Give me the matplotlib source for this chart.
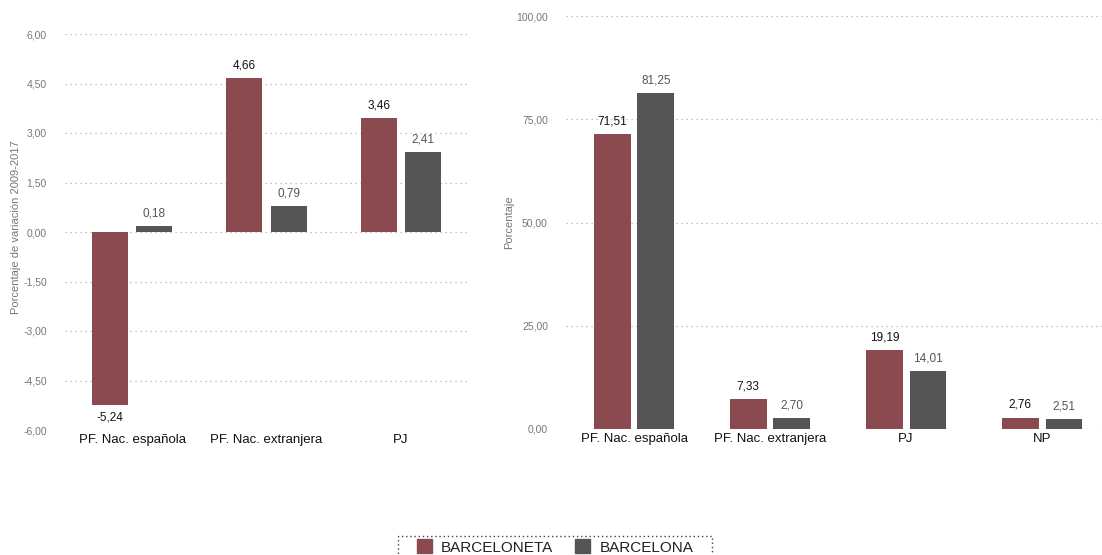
import matplotlib
matplotlib.use("Agg")
import matplotlib.pyplot as plt
import numpy as np
from matplotlib.patches import Rectangle

plt.rcParams['font.family'] = ['Liberation Sans', 'DejaVu Sans']

# Variation 2009-2017
var_categories = ["PF. Nac. española", "PF. Nac. extranjera", "PJ"]
var_barceloneta = [-5.24, 4.66, 3.46]
var_barcelona = [0.18, 0.79, 2.41]
var_ticks = [6.0, 4.5, 3.0, 1.5, 0.0, -1.5, -3.0, -4.5, -6.0]

# Share of total
pct_categories = ["PF. Nac. española", "PF. Nac. extranjera", "PJ", "NP"]
pct_barceloneta = [71.51, 7.33, 19.19, 2.76]
pct_barcelona = [81.25, 2.70, 14.01, 2.51]
pct_ticks = [0.0, 25.0, 50.0, 75.0, 100.0]

series_names = ["BARCELONETA", "BARCELONA"]
RED = "#8a4a4f"
DARK = "#555555"
W, H = 1102, 555


def fmt(v):
    return f"{v:.2f}".replace(".", ",")


def style_axis(ax, ticks):
    ax.set_yticks(ticks)
    ax.set_yticklabels([fmt(t) for t in ticks], fontsize=7.5, color="#777777")
    ax.yaxis.grid(True, linestyle=(0, (1, 3)), color="#b0b0b0", linewidth=0.9)
    ax.set_axisbelow(True)
    for s in ax.spines.values():
        s.set_visible(False)
    ax.tick_params(axis="y", length=0, pad=13)
    ax.tick_params(axis="x", length=0, pad=3, labelsize=9.5, labelcolor="#111111")


def draw_bars(ax, cats, a, b, off, bw, lab_off):
    x = np.arange(len(cats))
    ax.bar(x - off, a, bw, color=RED, zorder=2)
    ax.bar(x + off, b, bw, color=DARK, zorder=2)
    for xi, v in zip(x, a):
        va = "bottom" if v >= 0 else "top"
        ax.text(xi - off, v + (lab_off if v >= 0 else -lab_off), fmt(v),
                ha="center", va=va, fontsize=8.5, color="#111111")
    for xi, v in zip(x, b):
        ax.text(xi + off, v + lab_off, fmt(v), ha="center", va="bottom",
                fontsize=8.5, color="#555555")
    ax.set_xticks(x)
    ax.set_xticklabels(cats)


fig = plt.figure(figsize=(W / 100, H / 100), dpi=100)

# Left panel
ax1 = fig.add_axes([65 / W, 1 - 430 / H, (468 - 65) / W, (430 - 34) / H])
draw_bars(ax1, var_categories, var_barceloneta, var_barcelona, 0.165, 0.27, 0.2)
ax1.set_xlim(-0.5, 2.5)
ax1.set_ylim(-6.0, 6.0)
style_axis(ax1, var_ticks)
fig.text(16 / W, 1 - 227 / H, "Porcentaje de variación 2009-2017", rotation=90,
         ha="center", va="center", fontsize=8, color="#777777")

# Right panel
ax2 = fig.add_axes([566 / W, 1 - 429 / H, (1102 - 566) / W, (429 - 16) / H])
draw_bars(ax2, pct_categories, pct_barceloneta, pct_barcelona, 0.16, 0.27, 1.6)
ax2.set_xlim(-0.5, 3.44)
ax2.set_ylim(0, 100)
style_axis(ax2, pct_ticks)
fig.text(509 / W, 1 - 222 / H, "Porcentaje", rotation=90,
         ha="center", va="center", fontsize=8, color="#777777")

# Legend with a dotted box around it
handles = [Rectangle((0, 0), 1, 1, color=RED), Rectangle((0, 0), 1, 1, color=DARK)]
leg = fig.legend(handles, series_names, loc="center", bbox_to_anchor=(555 / W, 1 - 547 / H),
                 ncol=2, fontsize=11, frameon=False, handlelength=1.0, handleheight=1.0,
                 handletextpad=0.6, columnspacing=1.4, borderpad=0.2)
for t in leg.get_texts():
    t.set_color("#222222")
fig.patches.append(Rectangle((398 / W, 1 - 558 / H), (712 - 398) / W, (558 - 536) / H,
                             transform=fig.transFigure, fill=False, edgecolor="#444444",
                             linestyle=(0, (1, 2)), linewidth=1.0))

fig.savefig("out.png", dpi=100)
